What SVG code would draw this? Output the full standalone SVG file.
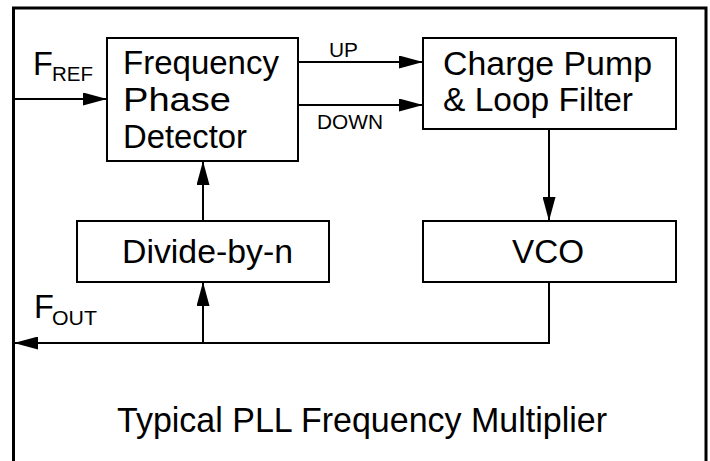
<svg xmlns="http://www.w3.org/2000/svg" width="710" height="461" viewBox="0 0 710 461">
<style>
.box{fill:#fff;stroke:#000;stroke-width:2}
.w{stroke:#000;stroke-width:2;fill:none}
text{font-family:"Liberation Sans",Arial,sans-serif;fill:#000}
.t{font-size:32.5px}
.s{font-size:20px}
</style>
<defs>
<marker id="a" viewBox="0 0 24 13" refX="24" refY="6.5" markerWidth="24" markerHeight="13" markerUnits="userSpaceOnUse" orient="auto">
<path d="M0,0 L24,6.5 L0,13 Z" fill="#000"/>
</marker>
</defs>
<rect width="710" height="461" fill="#fff"/>
<path d="M13.5,470 V8 H706 V470" fill="none" stroke="#000" stroke-width="3"/>
<g id="connectors">
<line class="w" x1="14" y1="99" x2="107" y2="99" marker-end="url(#a)"/>
<line class="w" x1="298" y1="62" x2="423" y2="62" marker-end="url(#a)"/>
<line class="w" x1="298" y1="105" x2="423" y2="105" marker-end="url(#a)"/>
<line class="w" x1="549" y1="129" x2="549" y2="221" marker-end="url(#a)"/>
<line class="w" x1="203" y1="221" x2="203" y2="161" marker-end="url(#a)"/>
<polyline class="w" points="549,282 549,343 14,343" marker-end="url(#a)"/>
<line class="w" x1="203" y1="343" x2="203" y2="282" marker-end="url(#a)"/>
</g>
<g id="labels">
<text class="t" x="33" y="75">F</text>
<text class="s" x="52" y="81" textLength="41" lengthAdjust="spacingAndGlyphs">REF</text>
<text class="s" x="329" y="57" textLength="29" lengthAdjust="spacingAndGlyphs">UP</text>
<text class="s" x="317" y="129" textLength="66" lengthAdjust="spacingAndGlyphs">DOWN</text>
<text class="t" x="34" y="318">F</text>
<text class="s" x="52" y="325" textLength="45" lengthAdjust="spacingAndGlyphs">OUT</text>
</g>
<g id="fpd">
<rect class="box" x="107" y="38" width="191" height="123"/>
<text class="t" x="123" y="74" textLength="156" lengthAdjust="spacingAndGlyphs">Frequency</text>
<text class="t" x="123" y="111" textLength="108" lengthAdjust="spacingAndGlyphs">Phase</text>
<text class="t" x="123" y="148" textLength="124" lengthAdjust="spacingAndGlyphs">Detector</text>
</g>
<g id="cp">
<rect class="box" x="423" y="38" width="253" height="91"/>
<text class="t" x="443" y="75" textLength="209" lengthAdjust="spacingAndGlyphs">Charge Pump</text>
<text class="t" x="443" y="111" textLength="190" lengthAdjust="spacingAndGlyphs">&amp; Loop Filter</text>
</g>
<g id="div">
<rect class="box" x="77" y="221" width="252" height="61"/>
<text class="t" x="122" y="263" textLength="171" lengthAdjust="spacingAndGlyphs">Divide-by-n</text>
</g>
<g id="vco">
<rect class="box" x="423" y="221" width="253" height="61"/>
<text class="t" x="512" y="263" textLength="72" lengthAdjust="spacingAndGlyphs">VCO</text>
</g>
<g id="title">
<text x="117" y="432" font-size="34.5" textLength="490" lengthAdjust="spacingAndGlyphs">Typical PLL Frequency Multiplier</text>
</g>
</svg>
